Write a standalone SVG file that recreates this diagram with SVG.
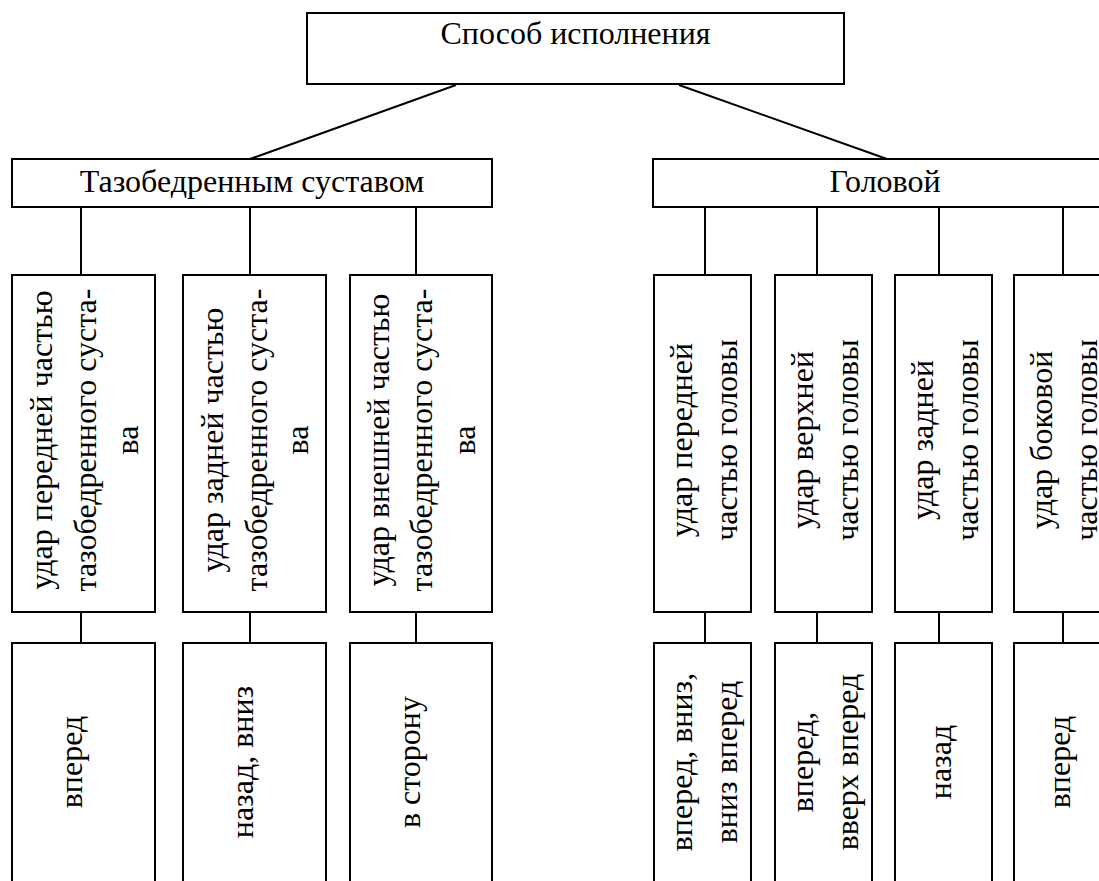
<svg xmlns="http://www.w3.org/2000/svg" width="1099" height="881" viewBox="0 0 1099 881">
<style>
rect{fill:#fff;stroke:#000;stroke-width:2}
line{stroke:#000;stroke-width:2}
text{font-family:"Liberation Serif","Times New Roman",serif;font-size:32px;fill:#000;text-anchor:middle}
</style>
<rect x="0" y="0" width="1099" height="881" style="stroke:none"/>
<g id="connectors">
<line x1="456" y1="85" x2="250" y2="159"/>
<line x1="679" y1="85" x2="887" y2="159"/>
<line x1="81" y1="207" x2="81" y2="275"/>
<line x1="250" y1="207" x2="250" y2="275"/>
<line x1="416" y1="207" x2="416" y2="275"/>
<line x1="705" y1="207" x2="705" y2="275"/>
<line x1="817" y1="207" x2="817" y2="275"/>
<line x1="939" y1="207" x2="939" y2="275"/>
<line x1="1063" y1="207" x2="1063" y2="275"/>
<line x1="81" y1="612" x2="81" y2="643"/>
<line x1="250" y1="612" x2="250" y2="643"/>
<line x1="416" y1="612" x2="416" y2="643"/>
<line x1="705" y1="612" x2="705" y2="643"/>
<line x1="817" y1="612" x2="817" y2="643"/>
<line x1="939" y1="612" x2="939" y2="643"/>
<line x1="1063" y1="612" x2="1063" y2="643"/>
</g>
<g id="root"><rect x="307" y="13" width="537" height="71"/><text x="575.5" y="44">Способ исполнения</text></g>
<g id="hip"><rect x="12" y="159" width="480" height="48"/><text x="252" y="192">Тазобедренным суставом</text></g>
<g id="head"><rect x="653" y="159" width="470" height="48"/><text x="885" y="192">Головой</text></g>

<g id="hip-front"><rect x="12" y="275" width="143" height="337"/>
<text transform="translate(52,440) rotate(-90)">удар передней частью</text>
<text transform="translate(96,440) rotate(-90)">тазобедренного суста-</text>
<text transform="translate(138,440) rotate(-90)">ва</text></g>
<g id="hip-back"><rect x="183" y="275" width="143" height="337"/>
<text transform="translate(223,440) rotate(-90)">удар задней частью</text>
<text transform="translate(267,440) rotate(-90)">тазобедренного суста-</text>
<text transform="translate(308,440) rotate(-90)">ва</text></g>
<g id="hip-outer"><rect x="350" y="275" width="142" height="337"/>
<text transform="translate(389,440) rotate(-90)">удар внешней частью</text>
<text transform="translate(432,440) rotate(-90)">тазобедренного суста-</text>
<text transform="translate(475,440) rotate(-90)">ва</text></g>

<g id="head-front"><rect x="654" y="275" width="97" height="337"/>
<text transform="translate(692,440) rotate(-90)">удар передней</text>
<text transform="translate(737,440) rotate(-90)">частью головы</text></g>
<g id="head-top"><rect x="775" y="275" width="97" height="337"/>
<text transform="translate(813,440) rotate(-90)">удар верхней</text>
<text transform="translate(858,440) rotate(-90)">частью головы</text></g>
<g id="head-back"><rect x="895" y="275" width="97" height="337"/>
<text transform="translate(933,440) rotate(-90)">удар задней</text>
<text transform="translate(978,440) rotate(-90)">частью головы</text></g>
<g id="head-side"><rect x="1014" y="275" width="97" height="337"/>
<text transform="translate(1052,440) rotate(-90)">удар боковой</text>
<text transform="translate(1097,440) rotate(-90)">частью головы</text></g>

<g id="dir-hip-front"><rect x="12" y="643" width="143" height="260"/>
<text transform="translate(82,762) rotate(-90)">вперед</text></g>
<g id="dir-hip-back"><rect x="183" y="643" width="143" height="260"/>
<text transform="translate(253,762) rotate(-90)">назад, вниз</text></g>
<g id="dir-hip-outer"><rect x="350" y="643" width="142" height="260"/>
<text transform="translate(420,762) rotate(-90)">в сторону</text></g>

<g id="dir-head-front"><rect x="654" y="643" width="97" height="260"/>
<text transform="translate(692,762) rotate(-90)">вперед, вниз,</text>
<text transform="translate(737,762) rotate(-90)">вниз вперед</text></g>
<g id="dir-head-top"><rect x="775" y="643" width="97" height="260"/>
<text transform="translate(813,762) rotate(-90)">вперед,</text>
<text transform="translate(858,762) rotate(-90)">вверх вперед</text></g>
<g id="dir-head-back"><rect x="895" y="643" width="97" height="260"/>
<text transform="translate(951,762) rotate(-90)">назад</text></g>
<g id="dir-head-side"><rect x="1014" y="643" width="97" height="260"/>
<text transform="translate(1070,762) rotate(-90)">вперед</text></g>
</svg>
